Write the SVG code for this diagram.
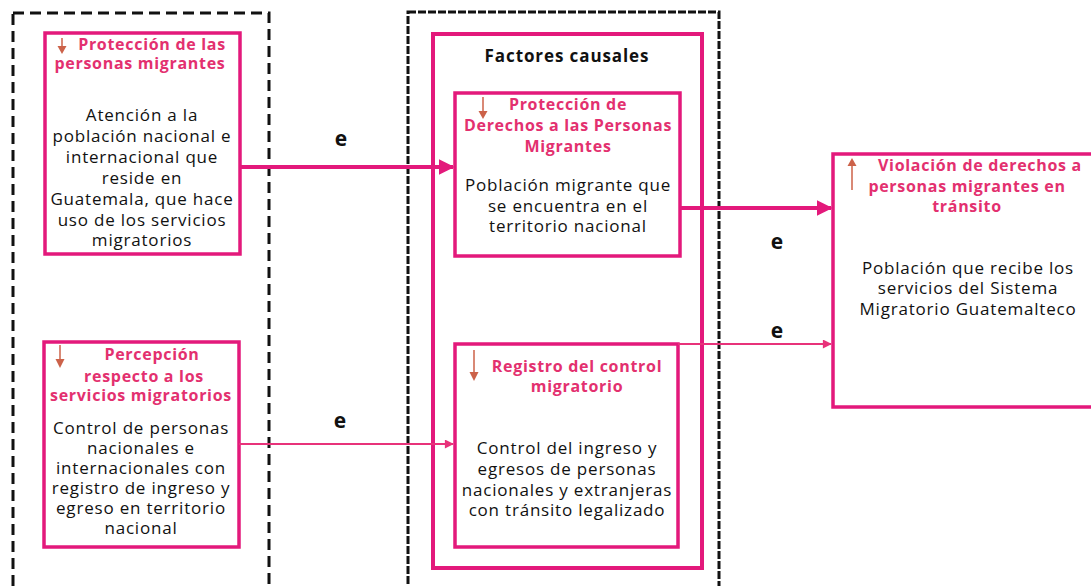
<svg xmlns="http://www.w3.org/2000/svg" width="1091" height="586" viewBox="0 0 1091 586">
<style>
.frame{fill:none;stroke:#111;stroke-width:3}
.box{fill:#fff;stroke:#e3197b;stroke-width:3.5}
.ttl{font-family:"Open Sans","Liberation Sans",sans-serif;font-weight:bold;font-size:16px;letter-spacing:0.7px;fill:#e3306f;text-anchor:middle}
.txt{font-family:"Open Sans","Liberation Sans",sans-serif;font-size:17px;letter-spacing:0.8px;fill:#111;text-anchor:middle}
.hdr{font-family:"Open Sans","Liberation Sans",sans-serif;font-weight:bold;font-size:17px;letter-spacing:0.9px;fill:#111;text-anchor:middle}
.lbl{font-family:"Open Sans","Liberation Sans",sans-serif;font-weight:bold;font-size:21px;fill:#111;text-anchor:middle}
.sm{stroke:#cc6249;stroke-width:1.5;fill:none}
.smh{fill:#cc6249}
.thick{stroke:#e3197b;stroke-width:4;fill:none}
.thin{stroke:#e8327a;stroke-width:1.8;fill:none}
</style>
<defs>
<marker id="ah" viewBox="0 0 10 10" refX="9" refY="5" markerWidth="4" markerHeight="4" orient="auto" markerUnits="strokeWidth"><path d="M0,0 L10,5 L0,10 z" fill="#e3197b"/></marker>
<marker id="ah2" viewBox="0 0 10 10" refX="9" refY="5" markerWidth="6" markerHeight="5" orient="auto" markerUnits="strokeWidth"><path d="M0,0 L10,5 L0,10 z" fill="#e8327a"/></marker>
</defs>
<rect width="1091" height="586" fill="#fff"/>
<g id="frames">
<rect class="frame" x="13" y="13" width="256" height="600" stroke-dasharray="11 6"/>
<rect class="frame" x="408" y="12" width="311" height="600" stroke-dasharray="8 2"/>
</g>
<g id="factores">
<rect x="433" y="34" width="269" height="534" fill="none" stroke="#e3197b" stroke-width="4"/>
<text class="hdr" x="567" y="62">Factores causales</text>
</g>
<g id="box1">
<rect class="box" x="45" y="33" width="195" height="221"/>
<line class="sm" x1="62" y1="38" x2="62" y2="47"/><path class="smh" d="M57.5,46 L66.5,46 L62,54 z"/>
<text class="ttl" x="152" y="50">Protección de las</text>
<text class="ttl" x="140" y="69">personas migrantes</text>
<text class="txt"><tspan x="142" y="121">Atención a la</tspan><tspan x="142" y="142">población nacional e</tspan><tspan x="142" y="163">internacional que</tspan><tspan x="142" y="184">reside en</tspan><tspan x="142" y="205">Guatemala, que hace</tspan><tspan x="142" y="226">uso de los servicios</tspan><tspan x="142" y="246">migratorios</tspan></text>
</g>
<g id="box2">
<rect class="box" x="44" y="342" width="195" height="205"/>
<line class="sm" x1="60" y1="345" x2="60" y2="360"/><path class="smh" d="M55.5,359 L64.5,359 L60,368 z"/>
<text class="ttl" x="152" y="360">Percepción</text>
<text class="ttl" x="144" y="382">respecto a los</text>
<text class="ttl" x="141" y="401">servicios migratorios</text>
<text class="txt"><tspan x="141" y="434">Control de personas</tspan><tspan x="141" y="454">nacionales e</tspan><tspan x="141" y="474">internacionales con</tspan><tspan x="141" y="494">registro de ingreso y</tspan><tspan x="141" y="514">egreso en territorio</tspan><tspan x="141" y="534">nacional</tspan></text>
</g>
<g id="box3">
<rect class="box" x="455" y="93" width="225" height="163"/>
<line class="sm" x1="483" y1="97" x2="483" y2="112"/><path class="smh" d="M478.5,111 L487.5,111 L483,119 z"/>
<text class="ttl" x="568" y="110">Protección de</text>
<text class="ttl" x="568" y="131">Derechos a las Personas</text>
<text class="ttl" x="568" y="152">Migrantes</text>
<text class="txt"><tspan x="568" y="191">Población migrante que</tspan><tspan x="568" y="212">se encuentra en el</tspan><tspan x="568" y="232">territorio nacional</tspan></text>
</g>
<g id="box4">
<rect class="box" x="455" y="344" width="223" height="203"/>
<line class="sm" x1="474" y1="350" x2="474" y2="373"/><path class="smh" d="M469.5,372 L478.5,372 L474,381 z"/>
<text class="ttl" x="577" y="372">Registro del control</text>
<text class="ttl" x="577" y="392">migratorio</text>
<text class="txt"><tspan x="567" y="454">Control del ingreso y</tspan><tspan x="567" y="475">egresos de personas</tspan><tspan x="567" y="496">nacionales y extranjeras</tspan><tspan x="567" y="516">con tránsito legalizado</tspan></text>
</g>
<g id="box5">
<rect class="box" x="833" y="154" width="270" height="253"/>
<line class="sm" x1="852" y1="190" x2="852" y2="165"/><path class="smh" d="M847.5,166 L856.5,166 L852,158 z"/>
<text class="ttl" x="980" y="171">Violación de derechos a</text>
<text class="ttl" x="967" y="192">personas migrantes en</text>
<text class="ttl" x="967" y="212">tránsito</text>
<text class="txt"><tspan x="968" y="274">Población  que recibe los</tspan><tspan x="968" y="294">servicios del Sistema</tspan><tspan x="968" y="315">Migratorio Guatemalteco</tspan></text>
</g>
<g id="connectors">
<line class="thick" x1="240" y1="167" x2="453" y2="167" marker-end="url(#ah)"/>
<line class="thick" x1="680" y1="208" x2="831" y2="208" marker-end="url(#ah)"/>
<line class="thin" x1="678" y1="344" x2="831" y2="344" marker-end="url(#ah2)"/>
<line class="thin" x1="239" y1="444" x2="453" y2="444" marker-end="url(#ah2)"/>
<text class="lbl" x="341" y="146">e</text>
<text class="lbl" x="777" y="249">e</text>
<text class="lbl" x="777" y="338">e</text>
<text class="lbl" x="340" y="428">e</text>
</g>
</svg>
